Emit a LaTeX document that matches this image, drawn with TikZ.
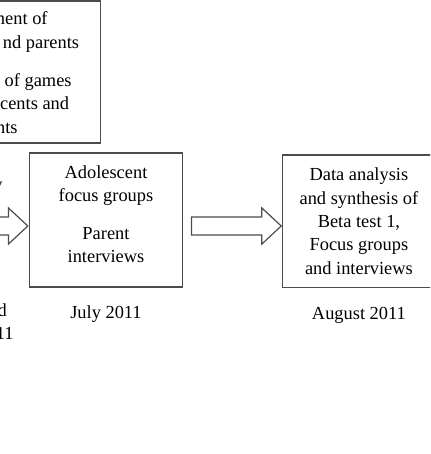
\documentclass[tikz,border=0pt]{standalone}
\usepackage{fontspec}
\setmainfont{Liberation Serif}
\usetikzlibrary{shapes.arrows, positioning}

\begin{document}
\begin{tikzpicture}[
  x=0.5pt, y=-0.5pt,
  stagebox/.style = {draw=black!70, line width=0.6pt, minimum width=76.7pt,
                     minimum height=67pt, inner sep=0pt},
  stagetxt/.style = {align=center, inner sep=0pt,
                     font=\fontsize{9.2}{11.65}\selectfont},
  frag/.style     = {anchor=base east, inner sep=0pt,
                     font=\fontsize{9.2}{11.65}\selectfont},
  datelbl/.style  = {inner sep=0pt, font=\fontsize{9.2}{11.65}\selectfont},
  blockarr/.style = {single arrow, draw=black!70, line width=0.6pt,
                     text height=8.35pt, text depth=0pt,
                     minimum width=17.5pt, minimum height=44.85pt,
                     single arrow head extend=4.575pt,
                     single arrow tip angle=86, inner sep=0pt, anchor=tip}
]
\useasboundingbox (0,0) rectangle (430,454);
\clip (0,0) rectangle (430,454);

% top box, cut off at the left
\node[stagebox, minimum width=80.5pt, minimum height=71pt] (plan) at (20,72) {};
\node[frag] (planA) at (48,25)    {ment of};
\node[frag] (planB) at (79.5,48.3) {nd parents};
\node[frag] (planC) at (72,86.7)  {of games};
\node[frag] (planD) at (69.5,110) {cents and};
\node[frag] (planE) at (18,133.3) {nts};

% fragments of the stage further left
\node[frag] (prevA) at (3,191)   {y};
\node[frag] (prevB) at (7.3,316) {d};
\node[frag] (prevC) at (14,339)  {11};

% stages
\node[stagebox] (adobox) at (106,220) {};
\node[stagetxt] (adotext) at ([yshift=3pt]adobox.center)
  {Adolescent\\focus groups\\[7.2pt]Parent\\interviews};
\node[stagebox, minimum width=76.2pt, minimum height=66.2pt] (databox) at (358.9,221.2) {};
\node[stagetxt] (datatext) at (databox.center)
  {Data analysis\\and synthesis of\\Beta test 1,\\Focus groups\\and interviews};

\node[datelbl, below=15.35pt of adobox.south, anchor=base] (adodate) {July 2011};
\node[datelbl, below=15.85pt of databox.south, anchor=base] (datadate) {August 2011};

% block arrows
\node[blockarr] (arrleft) at ([yshift=-3pt]adobox.west) {};
\node[blockarr] (arrmid)  at ([yshift=-2.4pt]databox.west) {};
\end{tikzpicture}
\end{document}
